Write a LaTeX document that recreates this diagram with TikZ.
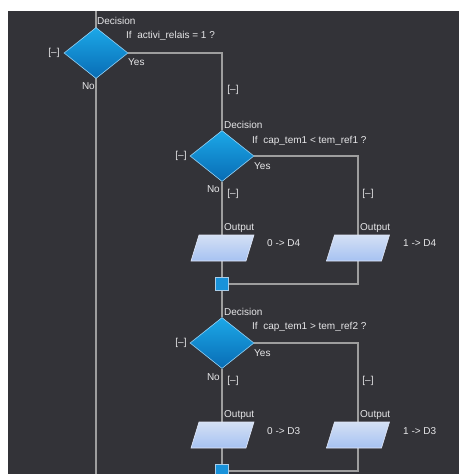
\documentclass[tikz,border=0pt]{standalone}
\usepackage{fontspec}
\setmainfont{Liberation Sans}
\usetikzlibrary{shapes.geometric}
\definecolor{bg}{RGB}{51,51,56}
\definecolor{wire}{RGB}{158,158,158}
\definecolor{txt}{RGB}{230,230,232}
\definecolor{dtop}{RGB}{28,168,232}
\definecolor{dbot}{RGB}{8,108,180}
\definecolor{dedge}{RGB}{150,210,245}
\definecolor{otop}{RGB}{212,224,244}
\definecolor{obot}{RGB}{166,194,242}
\definecolor{oedge}{RGB}{225,232,248}
\definecolor{jfill}{RGB}{24,146,218}
\definecolor{jedge}{RGB}{170,205,232}
\pgfdeclarelayer{back}
\pgfdeclarelayer{mid}
\pgfsetlayers{back,mid,main}
\tikzset{
  dec/.style={diamond, inner sep=0pt, minimum width=64pt, minimum height=51pt,
    top color=dtop, bottom color=dbot, draw=dedge, line width=0.6pt},
  outpoly/.style={top color=otop, bottom color=obot, draw=oedge, line width=0.6pt},
  junc/.style={rectangle, inner sep=0pt, minimum size=13pt, fill=jfill, draw=jedge, line width=0.8pt},
  lbl/.style={text=txt, inner sep=0pt, font=\fontsize{10}{12}\selectfont},
  wirestyle/.style={draw=wire, line width=1.6pt}
}
\begin{document}
\begin{tikzpicture}[x=1pt,y=-1pt]
\useasboundingbox (0,0) rectangle (459,474);
\begin{pgfonlayer}{back}
\fill[white] (0,0) rectangle (459,474);
\fill[bg] (8,11) rectangle (459,474);
\end{pgfonlayer}

\coordinate (top) at (96,11);
\coordinate (bot) at (96,474);

\node[dec] (d1) at (96,53) {};
\node[dec] (d2) at (222,156) {};
\node[dec] (d3) at (222,343) {};

\coordinate (o1) at (222.5,248);
\coordinate (o2) at (358,248);
\coordinate (o3) at (222.5,435);
\coordinate (o4) at (358,435);
\foreach \o in {o1,o2,o3,o4}{
  \path[outpoly] (\o) +(-23.5,-13) -- +(31.5,-13) -- +(23.5,13) -- +(-31.5,13) -- cycle;
}

\node[junc] (j1) at (222,284) {};
\node[junc] (j2) at (222,471) {};

\begin{pgfonlayer}{mid}
\draw[wirestyle] (top) -- (bot);
\draw[wirestyle] (d1.east) -| (d2.north);
\draw[wirestyle] (d2.south) -- (j1.north);
\draw[wirestyle] (d2.east) -| (o2);
\draw[wirestyle] (o2) |- (j1.east);
\draw[wirestyle] (j1.south) -- (d3.north);
\draw[wirestyle] (d3.south) -- (j2.north);
\draw[wirestyle] (d3.east) -| (o4);
\draw[wirestyle] (o4) |- (j2.east);
\end{pgfonlayer}

% Decision 1 labels
\node[lbl, anchor=west] (t1) at (97,21) {Decision};
\node[lbl, anchor=west] (c1) at (126,36) {If~~activi\_relais = 1 ?};
\node[lbl] (m1) at (54,53) {[–]};
\node[lbl, anchor=west] (y1) at (128,62) {Yes};
\node[lbl, anchor=east] (n1) at (95,86) {No};
\node[lbl] (m1b) at (233,90) {[–]};

% Decision 2 labels
\node[lbl, anchor=west] (t2) at (224,125) {Decision};
\node[lbl, anchor=west] (c2) at (252,141) {If~~cap\_tem1 < tem\_ref1 ?};
\node[lbl] (m2) at (181,156) {[–]};
\node[lbl, anchor=west] (y2) at (254,166) {Yes};
\node[lbl, anchor=east] (n2) at (220,189) {No};
\node[lbl] (m2a) at (233,194) {[–]};
\node[lbl] (m2b) at (368,194) {[–]};
\node[lbl, anchor=west] (p1) at (224,228) {Output};
\node[lbl, anchor=west] (p2) at (360,228) {Output};
\node[lbl, anchor=west] (v1) at (267,243) {0 -> D4};
\node[lbl, anchor=west] (v2) at (403,243) {1 -> D4};

% Decision 3 labels
\node[lbl, anchor=west] (t3) at (224,312) {Decision};
\node[lbl, anchor=west] (c3) at (252,327) {If~~cap\_tem1 > tem\_ref2 ?};
\node[lbl] (m3) at (181,343) {[–]};
\node[lbl, anchor=west] (y3) at (254,353) {Yes};
\node[lbl, anchor=east] (n3) at (220,377) {No};
\node[lbl] (m3a) at (233,381) {[–]};
\node[lbl] (m3b) at (368,381) {[–]};
\node[lbl, anchor=west] (p3) at (224,415) {Output};
\node[lbl, anchor=west] (p4) at (360,415) {Output};
\node[lbl, anchor=west] (v3) at (267,431) {0 -> D3};
\node[lbl, anchor=west] (v4) at (403,431) {1 -> D3};
\end{tikzpicture}
\end{document}
